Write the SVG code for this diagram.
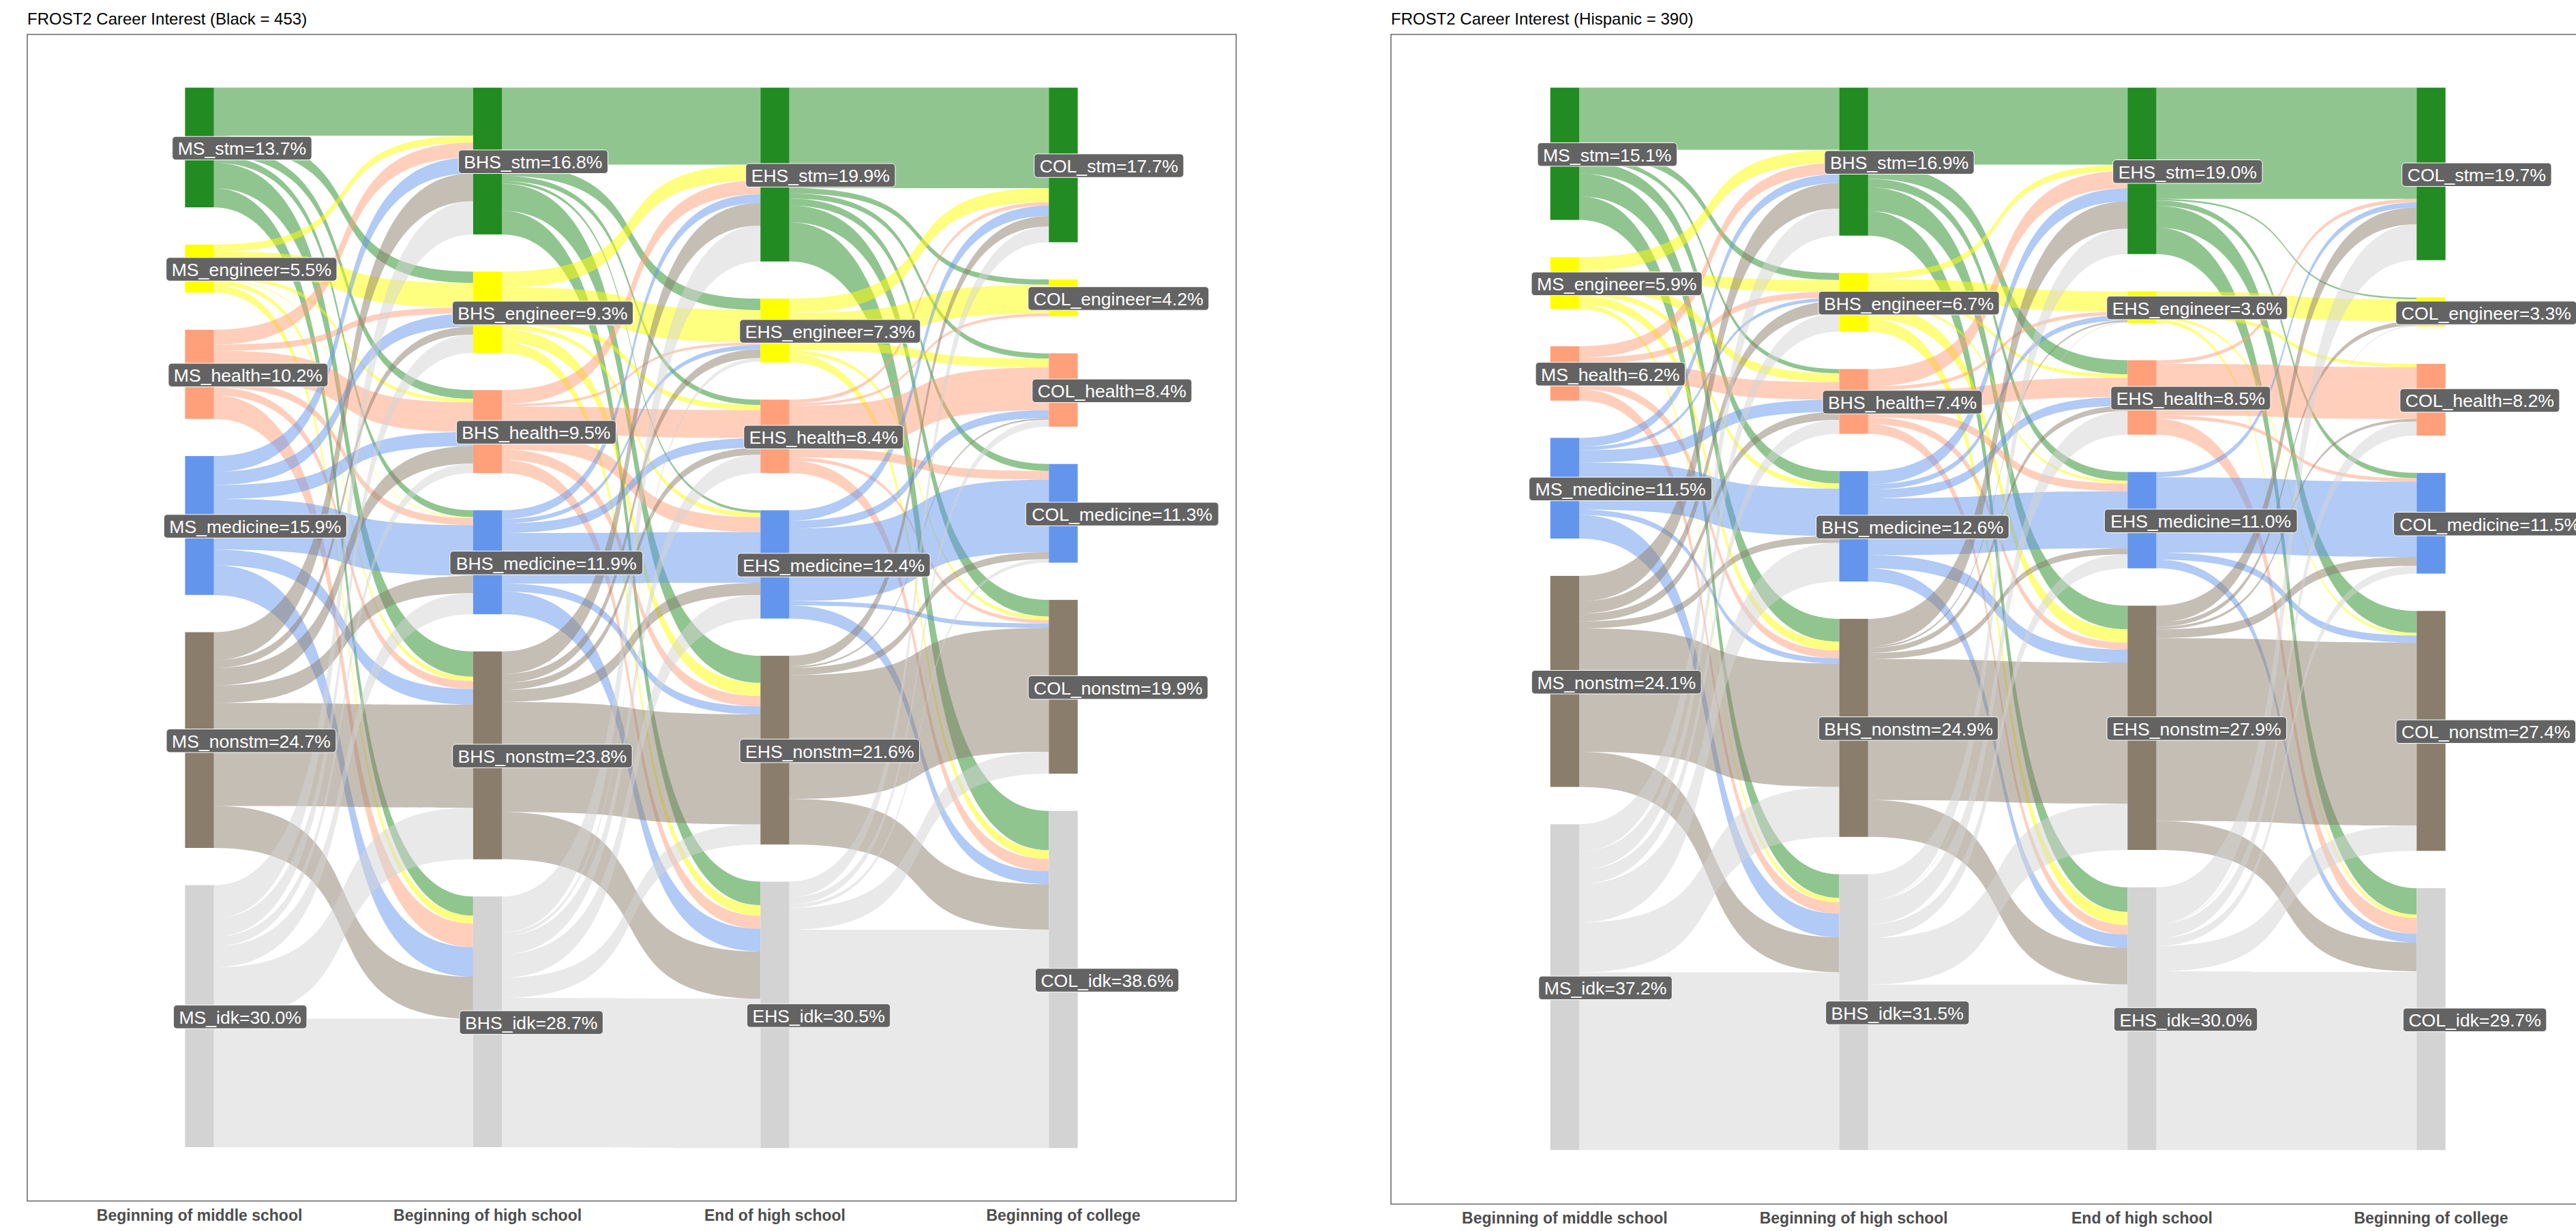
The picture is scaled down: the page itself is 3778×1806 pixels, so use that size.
<svg xmlns="http://www.w3.org/2000/svg" width="3778" height="1806" viewBox="0 0 3778 1806">
<style>
.fs{fill:#228B22;fill-opacity:.5}.fe{fill:#FFFF00;fill-opacity:.5}.fh{fill:#FFA07A;fill-opacity:.5}.fm{fill:#6495ED;fill-opacity:.5}.fn{fill:#8B7D6B;fill-opacity:.5}.fi{fill:#D3D3D3;fill-opacity:.5}
.ns{fill:#228B22}.ne{fill:#FFFF00}.nh{fill:#FFA07A}.nm{fill:#6495ED}.nn{fill:#8B7D6B}.ni{fill:#D3D3D3}
.lb{fill:#636363;stroke:#ffffff;stroke-width:1}
.lt{font-family:"Liberation Sans",Arial,sans-serif;font-size:26.6px;fill:#ffffff;text-anchor:middle}
.ax{font-family:"Liberation Sans",Arial,sans-serif;font-size:23px;font-weight:bold;fill:#4d4d4d;text-anchor:middle}
.ttl{font-family:"Liberation Sans",Arial,sans-serif;font-size:24px;fill:#000000}
.pb{fill:none;stroke:#666666;stroke-width:1.5}
</style>
<rect x="0" y="0" width="3778" height="1806" fill="#ffffff"/>
<text class="ttl" x="40" y="36">FROST2 Career Interest (Black = 453)</text>
<text class="ttl" x="2040" y="36">FROST2 Career Interest (Hispanic = 390)</text>
<rect class="pb" x="40" y="50.5" width="1773" height="1711.5"/>
<rect class="pb" x="2040" y="50.5" width="1760" height="1716"/>
<g id="connectors">
<g id="connectors-left">
<path class="fs" d="M313.7 128.6L693.9 128.6L693.9 199.1L313.7 199.1Z"/>
<path class="fs" d="M313.7 199.1C579.8 199.1 427.8 398.5 693.9 398.5L693.9 415.1C427.8 415.1 579.8 215.7 313.7 215.7Z"/>
<path class="fs" d="M313.7 215.7C579.8 215.7 427.8 572.3 693.9 572.3L693.9 585.1C427.8 585.1 579.8 228.6 313.7 228.6Z"/>
<path class="fs" d="M313.7 228.6C579.8 228.6 427.8 748.6 693.9 748.6L693.9 758.8C427.8 758.8 579.8 238.8 313.7 238.8Z"/>
<path class="fs" d="M313.7 238.8C579.8 238.8 427.8 955.7 693.9 955.7L693.9 992.8C427.8 992.8 579.8 276.0 313.7 276.0Z"/>
<path class="fs" d="M313.7 276.0C579.8 276.0 427.8 1315.2 693.9 1315.2L693.9 1343.4C427.8 1343.4 579.8 304.2 313.7 304.2Z"/>
<path class="fe" d="M313.7 358.8C579.8 358.8 427.8 199.1 693.9 199.1L693.9 209.3C427.8 209.3 579.8 369.0 313.7 369.0Z"/>
<path class="fe" d="M313.7 369.0C579.8 369.0 427.8 415.1 693.9 415.1L693.9 451.0C427.8 451.0 579.8 404.9 313.7 404.9Z"/>
<path class="fe" d="M313.7 404.9C579.8 404.9 427.8 585.1 693.9 585.1L693.9 590.2C427.8 590.2 579.8 410.0 313.7 410.0Z"/>
<path class="fe" d="M313.7 410.0C579.8 410.0 427.8 758.8 693.9 758.8L693.9 760.1C427.8 760.1 579.8 411.3 313.7 411.3Z"/>
<path class="fe" d="M313.7 411.3C579.8 411.3 427.8 992.8 693.9 992.8L693.9 999.2C427.8 999.2 579.8 417.7 313.7 417.7Z"/>
<path class="fe" d="M313.7 417.7C579.8 417.7 427.8 1343.4 693.9 1343.4L693.9 1355.0C427.8 1355.0 579.8 429.2 313.7 429.2Z"/>
<path class="fh" d="M313.7 483.8C579.8 483.8 427.8 209.3 693.9 209.3L693.9 231.1C427.8 231.1 579.8 505.6 313.7 505.6Z"/>
<path class="fh" d="M313.7 505.6C579.8 505.6 427.8 451.0 693.9 451.0L693.9 460.0C427.8 460.0 579.8 514.6 313.7 514.6Z"/>
<path class="fh" d="M313.7 514.6C579.8 514.6 427.8 590.2 693.9 590.2L693.9 633.8C427.8 633.8 579.8 558.2 313.7 558.2Z"/>
<path class="fh" d="M313.7 558.2C579.8 558.2 427.8 760.1 693.9 760.1L693.9 770.4C427.8 770.4 579.8 568.4 313.7 568.4Z"/>
<path class="fh" d="M313.7 568.4C579.8 568.4 427.8 999.2 693.9 999.2L693.9 1010.8C427.8 1010.8 579.8 579.9 313.7 579.9Z"/>
<path class="fh" d="M313.7 579.9C579.8 579.9 427.8 1355.0 693.9 1355.0L693.9 1389.6C427.8 1389.6 579.8 614.5 313.7 614.5Z"/>
<path class="fm" d="M313.7 669.1C579.8 669.1 427.8 231.1 693.9 231.1L693.9 254.2C427.8 254.2 579.8 692.2 313.7 692.2Z"/>
<path class="fm" d="M313.7 692.2C579.8 692.2 427.8 460.0 693.9 460.0L693.9 479.2C427.8 479.2 579.8 711.4 313.7 711.4Z"/>
<path class="fm" d="M313.7 711.4C579.8 711.4 427.8 633.8 693.9 633.8L693.9 654.3C427.8 654.3 579.8 731.9 313.7 731.9Z"/>
<path class="fm" d="M313.7 731.9C579.8 731.9 427.8 770.4 693.9 770.4L693.9 844.7C427.8 844.7 579.8 806.2 313.7 806.2Z"/>
<path class="fm" d="M313.7 806.2C579.8 806.2 427.8 1010.8 693.9 1010.8L693.9 1033.8C427.8 1033.8 579.8 829.3 313.7 829.3Z"/>
<path class="fm" d="M313.7 829.3C579.8 829.3 427.8 1389.6 693.9 1389.6L693.9 1433.1C427.8 1433.1 579.8 872.9 313.7 872.9Z"/>
<path class="fn" d="M313.7 927.5C579.8 927.5 427.8 254.2 693.9 254.2L693.9 295.2C427.8 295.2 579.8 968.5 313.7 968.5Z"/>
<path class="fn" d="M313.7 968.5C579.8 968.5 427.8 479.2 693.9 479.2L693.9 490.7C427.8 490.7 579.8 980.0 313.7 980.0Z"/>
<path class="fn" d="M313.7 980.0C579.8 980.0 427.8 654.3 693.9 654.3L693.9 679.9C427.8 679.9 579.8 1005.6 313.7 1005.6Z"/>
<path class="fn" d="M313.7 1005.6C579.8 1005.6 427.8 844.7 693.9 844.7L693.9 870.3C427.8 870.3 579.8 1031.3 313.7 1031.3Z"/>
<path class="fn" d="M313.7 1031.3C579.8 1031.3 427.8 1033.8 693.9 1033.8L693.9 1185.0C427.8 1185.0 579.8 1182.5 313.7 1182.5Z"/>
<path class="fn" d="M313.7 1182.5C579.8 1182.5 427.8 1433.1 693.9 1433.1L693.9 1494.6C427.8 1494.6 579.8 1244.0 313.7 1244.0Z"/>
<path class="fi" d="M313.7 1298.6C579.8 1298.6 427.8 295.2 693.9 295.2L693.9 343.9C427.8 343.9 579.8 1347.3 313.7 1347.3Z"/>
<path class="fi" d="M313.7 1347.3C579.8 1347.3 427.8 490.7 693.9 490.7L693.9 517.7C427.8 517.7 579.8 1374.2 313.7 1374.2Z"/>
<path class="fi" d="M313.7 1374.2C579.8 1374.2 427.8 679.9 693.9 679.9L693.9 694.0C427.8 694.0 579.8 1388.3 313.7 1388.3Z"/>
<path class="fi" d="M313.7 1388.3C579.8 1388.3 427.8 870.3 693.9 870.3L693.9 901.1C427.8 901.1 579.8 1419.0 313.7 1419.0Z"/>
<path class="fi" d="M313.7 1419.0C579.8 1419.0 427.8 1185.0 693.9 1185.0L693.9 1260.6C427.8 1260.6 579.8 1494.6 313.7 1494.6Z"/>
<path class="fi" d="M313.7 1494.6L693.9 1494.6L693.9 1683.0L313.7 1683.0Z"/>
<path class="fs" d="M736.2 128.6L1115.3 128.6L1115.3 241.4L736.2 241.4Z"/>
<path class="fs" d="M736.2 241.4C1001.6 241.4 849.9 438.2 1115.3 438.2L1115.3 454.9C849.9 454.9 1001.6 258.0 736.2 258.0Z"/>
<path class="fs" d="M736.2 258.0C1001.6 258.0 849.9 586.3 1115.3 586.3L1115.3 594.0C849.9 594.0 1001.6 265.7 736.2 265.7Z"/>
<path class="fs" d="M736.2 265.7C1001.6 265.7 849.9 748.6 1115.3 748.6L1115.3 752.4C849.9 752.4 1001.6 269.6 736.2 269.6Z"/>
<path class="fs" d="M736.2 269.6C1001.6 269.6 849.9 962.1 1115.3 962.1L1115.3 1001.8C849.9 1001.8 1001.6 309.3 736.2 309.3Z"/>
<path class="fs" d="M736.2 309.3C1001.6 309.3 849.9 1293.5 1115.3 1293.5L1115.3 1328.1C849.9 1328.1 1001.6 343.9 736.2 343.9Z"/>
<path class="fe" d="M736.2 398.5C1001.6 398.5 849.9 241.4 1115.3 241.4L1115.3 264.4C849.9 264.4 1001.6 421.6 736.2 421.6Z"/>
<path class="fe" d="M736.2 421.6C1001.6 421.6 849.9 454.9 1115.3 454.9L1115.3 502.3C849.9 502.3 1001.6 469.0 736.2 469.0Z"/>
<path class="fe" d="M736.2 469.0C1001.6 469.0 849.9 594.0 1115.3 594.0L1115.3 601.7C849.9 601.7 1001.6 476.7 736.2 476.7Z"/>
<path class="fe" d="M736.2 476.7C1001.6 476.7 849.9 752.4 1115.3 752.4L1115.3 758.8C849.9 758.8 1001.6 483.1 736.2 483.1Z"/>
<path class="fe" d="M736.2 483.1C1001.6 483.1 849.9 1001.8 1115.3 1001.8L1115.3 1021.0C849.9 1021.0 1001.6 502.3 736.2 502.3Z"/>
<path class="fe" d="M736.2 502.3C1001.6 502.3 849.9 1328.1 1115.3 1328.1L1115.3 1343.4C849.9 1343.4 1001.6 517.7 736.2 517.7Z"/>
<path class="fh" d="M736.2 572.3C1001.6 572.3 849.9 264.4 1115.3 264.4L1115.3 284.9C849.9 284.9 1001.6 592.8 736.2 592.8Z"/>
<path class="fh" d="M736.2 592.8C1001.6 592.8 849.9 502.3 1115.3 502.3L1115.3 506.1C849.9 506.1 1001.6 596.6 736.2 596.6Z"/>
<path class="fh" d="M736.2 596.6C1001.6 596.6 849.9 601.7 1115.3 601.7L1115.3 642.7C849.9 642.7 1001.6 637.6 736.2 637.6Z"/>
<path class="fh" d="M736.2 637.6C1001.6 637.6 849.9 758.8 1115.3 758.8L1115.3 780.6C849.9 780.6 1001.6 659.4 736.2 659.4Z"/>
<path class="fh" d="M736.2 659.4C1001.6 659.4 849.9 1021.0 1115.3 1021.0L1115.3 1036.4C849.9 1036.4 1001.6 674.8 736.2 674.8Z"/>
<path class="fh" d="M736.2 674.8C1001.6 674.8 849.9 1343.4 1115.3 1343.4L1115.3 1362.7C849.9 1362.7 1001.6 694.0 736.2 694.0Z"/>
<path class="fm" d="M736.2 748.6C1001.6 748.6 849.9 284.9 1115.3 284.9L1115.3 297.7C849.9 297.7 1001.6 761.4 736.2 761.4Z"/>
<path class="fm" d="M736.2 761.4C1001.6 761.4 849.9 506.1 1115.3 506.1L1115.3 512.5C849.9 512.5 1001.6 767.8 736.2 767.8Z"/>
<path class="fm" d="M736.2 767.8C1001.6 767.8 849.9 642.7 1115.3 642.7L1115.3 656.8C849.9 656.8 1001.6 781.9 736.2 781.9Z"/>
<path class="fm" d="M736.2 781.9C1001.6 781.9 849.9 780.6 1115.3 780.6L1115.3 854.9C849.9 854.9 1001.6 856.2 736.2 856.2Z"/>
<path class="fm" d="M736.2 856.2C1001.6 856.2 849.9 1036.4 1115.3 1036.4L1115.3 1047.9C849.9 1047.9 1001.6 867.8 736.2 867.8Z"/>
<path class="fm" d="M736.2 867.8C1001.6 867.8 849.9 1362.7 1115.3 1362.7L1115.3 1396.0C849.9 1396.0 1001.6 901.1 736.2 901.1Z"/>
<path class="fn" d="M736.2 955.7C1001.6 955.7 849.9 297.7 1115.3 297.7L1115.3 331.1C849.9 331.1 1001.6 989.0 736.2 989.0Z"/>
<path class="fn" d="M736.2 989.0C1001.6 989.0 849.9 512.5 1115.3 512.5L1115.3 525.3C849.9 525.3 1001.6 1001.8 736.2 1001.8Z"/>
<path class="fn" d="M736.2 1001.8C1001.6 1001.8 849.9 656.8 1115.3 656.8L1115.3 667.1C849.9 667.1 1001.6 1012.1 736.2 1012.1Z"/>
<path class="fn" d="M736.2 1012.1C1001.6 1012.1 849.9 854.9 1115.3 854.9L1115.3 872.9C849.9 872.9 1001.6 1030.0 736.2 1030.0Z"/>
<path class="fn" d="M736.2 1030.0C1001.6 1030.0 849.9 1047.9 1115.3 1047.9L1115.3 1209.4C849.9 1209.4 1001.6 1191.5 736.2 1191.5Z"/>
<path class="fn" d="M736.2 1191.5C1001.6 1191.5 849.9 1396.0 1115.3 1396.0L1115.3 1465.2C849.9 1465.2 1001.6 1260.6 736.2 1260.6Z"/>
<path class="fi" d="M736.2 1315.2C1001.6 1315.2 849.9 331.1 1115.3 331.1L1115.3 383.6C849.9 383.6 1001.6 1367.8 736.2 1367.8Z"/>
<path class="fi" d="M736.2 1367.8C1001.6 1367.8 849.9 525.3 1115.3 525.3L1115.3 530.5C849.9 530.5 1001.6 1372.9 736.2 1372.9Z"/>
<path class="fi" d="M736.2 1372.9C1001.6 1372.9 849.9 667.1 1115.3 667.1L1115.3 694.0C849.9 694.0 1001.6 1399.8 736.2 1399.8Z"/>
<path class="fi" d="M736.2 1399.8C1001.6 1399.8 849.9 872.9 1115.3 872.9L1115.3 907.5C849.9 907.5 1001.6 1434.4 736.2 1434.4Z"/>
<path class="fi" d="M736.2 1434.4C1001.6 1434.4 849.9 1209.4 1115.3 1209.4L1115.3 1238.9C849.9 1238.9 1001.6 1463.9 736.2 1463.9Z"/>
<path class="fi" d="M736.2 1463.9C1001.6 1463.9 849.9 1465.2 1115.3 1465.2L1115.3 1684.3C849.9 1684.3 1001.6 1683.0 736.2 1683.0Z"/>
<path class="fs" d="M1157.6 128.6L1538.3 128.6L1538.3 276.0L1157.6 276.0Z"/>
<path class="fs" d="M1157.6 276.0C1424.1 276.0 1271.8 410.0 1538.3 410.0L1538.3 417.7C1271.8 417.7 1424.1 283.7 1157.6 283.7Z"/>
<path class="fs" d="M1157.6 283.7C1424.1 283.7 1271.8 518.4 1538.3 518.4L1538.3 526.1C1271.8 526.1 1424.1 291.3 1157.6 291.3Z"/>
<path class="fs" d="M1157.6 291.3C1424.1 291.3 1271.8 680.7 1538.3 680.7L1538.3 690.9C1271.8 690.9 1424.1 301.6 1157.6 301.6Z"/>
<path class="fs" d="M1157.6 301.6C1424.1 301.6 1271.8 880.1 1538.3 880.1L1538.3 904.4C1271.8 904.4 1424.1 325.9 1157.6 325.9Z"/>
<path class="fs" d="M1157.6 325.9C1424.1 325.9 1271.8 1189.7 1538.3 1189.7L1538.3 1247.3C1271.8 1247.3 1424.1 383.6 1157.6 383.6Z"/>
<path class="fe" d="M1157.6 438.2C1424.1 438.2 1271.8 276.0 1538.3 276.0L1538.3 296.5C1271.8 296.5 1424.1 458.7 1157.6 458.7Z"/>
<path class="fe" d="M1157.6 458.7C1424.1 458.7 1271.8 417.7 1538.3 417.7L1538.3 460.0C1271.8 460.0 1424.1 501.0 1157.6 501.0Z"/>
<path class="fe" d="M1157.6 501.0C1424.1 501.0 1271.8 526.1 1538.3 526.1L1538.3 538.9C1271.8 538.9 1424.1 513.8 1157.6 513.8Z"/>
<path class="fe" d="M1157.6 513.8C1424.1 513.8 1271.8 904.4 1538.3 904.4L1538.3 909.5C1271.8 909.5 1424.1 518.9 1157.6 518.9Z"/>
<path class="fe" d="M1157.6 518.9C1424.1 518.9 1271.8 1247.3 1538.3 1247.3L1538.3 1260.2C1271.8 1260.2 1424.1 531.7 1157.6 531.7Z"/>
<path class="fh" d="M1157.6 586.3C1424.1 586.3 1271.8 296.5 1538.3 296.5L1538.3 301.6C1271.8 301.6 1424.1 591.5 1157.6 591.5Z"/>
<path class="fh" d="M1157.6 591.5C1424.1 591.5 1271.8 460.0 1538.3 460.0L1538.3 463.8C1271.8 463.8 1424.1 595.3 1157.6 595.3Z"/>
<path class="fh" d="M1157.6 595.3C1424.1 595.3 1271.8 538.9 1538.3 538.9L1538.3 601.7C1271.8 601.7 1424.1 658.1 1157.6 658.1Z"/>
<path class="fh" d="M1157.6 658.1C1424.1 658.1 1271.8 690.9 1538.3 690.9L1538.3 703.7C1271.8 703.7 1424.1 670.9 1157.6 670.9Z"/>
<path class="fh" d="M1157.6 670.9C1424.1 670.9 1271.8 909.5 1538.3 909.5L1538.3 914.7C1271.8 914.7 1424.1 676.0 1157.6 676.0Z"/>
<path class="fh" d="M1157.6 676.0C1424.1 676.0 1271.8 1260.2 1538.3 1260.2L1538.3 1278.1C1271.8 1278.1 1424.1 694.0 1157.6 694.0Z"/>
<path class="fm" d="M1157.6 748.6C1424.1 748.6 1271.8 301.6 1538.3 301.6L1538.3 317.0C1271.8 317.0 1424.1 764.0 1157.6 764.0Z"/>
<path class="fm" d="M1157.6 764.0C1424.1 764.0 1271.8 601.7 1538.3 601.7L1538.3 613.3C1271.8 613.3 1424.1 775.5 1157.6 775.5Z"/>
<path class="fm" d="M1157.6 775.5C1424.1 775.5 1271.8 703.7 1538.3 703.7L1538.3 810.1C1271.8 810.1 1424.1 881.9 1157.6 881.9Z"/>
<path class="fm" d="M1157.6 881.9C1424.1 881.9 1271.8 914.7 1538.3 914.7L1538.3 921.1C1271.8 921.1 1424.1 888.3 1157.6 888.3Z"/>
<path class="fm" d="M1157.6 888.3C1424.1 888.3 1271.8 1278.1 1538.3 1278.1L1538.3 1297.3C1271.8 1297.3 1424.1 907.5 1157.6 907.5Z"/>
<path class="fn" d="M1157.6 962.1C1424.1 962.1 1271.8 317.0 1538.3 317.0L1538.3 332.3C1271.8 332.3 1424.1 977.5 1157.6 977.5Z"/>
<path class="fn" d="M1157.6 977.5C1424.1 977.5 1271.8 613.3 1538.3 613.3L1538.3 615.8C1271.8 615.8 1424.1 980.0 1157.6 980.0Z"/>
<path class="fn" d="M1157.6 980.0C1424.1 980.0 1271.8 810.1 1538.3 810.1L1538.3 820.3C1271.8 820.3 1424.1 990.3 1157.6 990.3Z"/>
<path class="fn" d="M1157.6 990.3C1424.1 990.3 1271.8 921.1 1538.3 921.1L1538.3 1103.0C1271.8 1103.0 1424.1 1172.2 1157.6 1172.2Z"/>
<path class="fn" d="M1157.6 1172.2C1424.1 1172.2 1271.8 1297.3 1538.3 1297.3L1538.3 1363.9C1271.8 1363.9 1424.1 1238.9 1157.6 1238.9Z"/>
<path class="fi" d="M1157.6 1293.5C1424.1 1293.5 1271.8 332.3 1538.3 332.3L1538.3 355.4C1271.8 355.4 1424.1 1316.5 1157.6 1316.5Z"/>
<path class="fi" d="M1157.6 1316.5C1424.1 1316.5 1271.8 615.8 1538.3 615.8L1538.3 626.1C1271.8 626.1 1424.1 1326.8 1157.6 1326.8Z"/>
<path class="fi" d="M1157.6 1326.8C1424.1 1326.8 1271.8 820.3 1538.3 820.3L1538.3 825.5C1271.8 825.5 1424.1 1331.9 1157.6 1331.9Z"/>
<path class="fi" d="M1157.6 1331.9C1424.1 1331.9 1271.8 1103.0 1538.3 1103.0L1538.3 1135.1C1271.8 1135.1 1424.1 1363.9 1157.6 1363.9Z"/>
<path class="fi" d="M1157.6 1363.9L1538.3 1363.9L1538.3 1684.3L1157.6 1684.3Z"/>
</g>
<g id="connectors-right">
<path class="fs" d="M2316 128.6L2697.5 128.6L2697.5 219.8L2316 219.8Z"/>
<path class="fs" d="M2316 219.8C2583.1 219.8 2430.4 400.5 2697.5 400.5L2697.5 410.8C2430.4 410.8 2583.1 230.1 2316 230.1Z"/>
<path class="fs" d="M2316 230.1C2583.1 230.1 2430.4 541.4 2697.5 541.4L2697.5 547.8C2430.4 547.8 2583.1 236.5 2316 236.5Z"/>
<path class="fs" d="M2316 236.5C2583.1 236.5 2430.4 691.2 2697.5 691.2L2697.5 709.2C2430.4 709.2 2583.1 254.5 2316 254.5Z"/>
<path class="fs" d="M2316 254.5C2583.1 254.5 2430.4 907.9 2697.5 907.9L2697.5 941.3C2430.4 941.3 2583.1 287.9 2316 287.9Z"/>
<path class="fs" d="M2316 287.9C2583.1 287.9 2430.4 1282.6 2697.5 1282.6L2697.5 1317.2C2430.4 1317.2 2583.1 322.6 2316 322.6Z"/>
<path class="fe" d="M2316 377.4C2583.1 377.4 2430.4 219.8 2697.5 219.8L2697.5 239.1C2430.4 239.1 2583.1 396.6 2316 396.6Z"/>
<path class="fe" d="M2316 396.6C2583.1 396.6 2430.4 410.8 2697.5 410.8L2697.5 427.5C2430.4 427.5 2583.1 413.3 2316 413.3Z"/>
<path class="fe" d="M2316 413.3C2583.1 413.3 2430.4 547.8 2697.5 547.8L2697.5 560.6C2430.4 560.6 2583.1 426.2 2316 426.2Z"/>
<path class="fe" d="M2316 426.2C2583.1 426.2 2430.4 709.2 2697.5 709.2L2697.5 716.9C2430.4 716.9 2583.1 433.9 2316 433.9Z"/>
<path class="fe" d="M2316 433.9C2583.1 433.9 2430.4 941.3 2697.5 941.3L2697.5 954.1C2430.4 954.1 2583.1 446.7 2316 446.7Z"/>
<path class="fe" d="M2316 446.7C2583.1 446.7 2430.4 1317.2 2697.5 1317.2L2697.5 1323.7C2430.4 1323.7 2583.1 453.2 2316 453.2Z"/>
<path class="fh" d="M2316 508.0C2583.1 508.0 2430.4 239.1 2697.5 239.1L2697.5 255.8C2430.4 255.8 2583.1 524.7 2316 524.7Z"/>
<path class="fh" d="M2316 524.7C2583.1 524.7 2430.4 427.5 2697.5 427.5L2697.5 436.5C2430.4 436.5 2583.1 533.7 2316 533.7Z"/>
<path class="fh" d="M2316 533.7C2583.1 533.7 2430.4 560.6 2697.5 560.6L2697.5 586.3C2430.4 586.3 2583.1 559.3 2316 559.3Z"/>
<path class="fh" d="M2316 559.3C2583.1 559.3 2430.4 954.1 2697.5 954.1L2697.5 965.7C2430.4 965.7 2583.1 570.9 2316 570.9Z"/>
<path class="fh" d="M2316 570.9C2583.1 570.9 2430.4 1323.7 2697.5 1323.7L2697.5 1340.4C2430.4 1340.4 2583.1 587.6 2316 587.6Z"/>
<path class="fm" d="M2316 642.4C2583.1 642.4 2430.4 255.8 2697.5 255.8L2697.5 268.6C2430.4 268.6 2583.1 655.3 2316 655.3Z"/>
<path class="fm" d="M2316 655.3C2583.1 655.3 2430.4 436.5 2697.5 436.5L2697.5 441.6C2430.4 441.6 2583.1 660.4 2316 660.4Z"/>
<path class="fm" d="M2316 660.4C2583.1 660.4 2430.4 586.3 2697.5 586.3L2697.5 604.3C2430.4 604.3 2583.1 678.4 2316 678.4Z"/>
<path class="fm" d="M2316 678.4C2583.1 678.4 2430.4 716.9 2697.5 716.9L2697.5 786.3C2430.4 786.3 2583.1 747.8 2316 747.8Z"/>
<path class="fm" d="M2316 747.8C2583.1 747.8 2430.4 965.7 2697.5 965.7L2697.5 973.4C2430.4 973.4 2583.1 755.5 2316 755.5Z"/>
<path class="fm" d="M2316 755.5C2583.1 755.5 2430.4 1340.4 2697.5 1340.4L2697.5 1375.1C2430.4 1375.1 2583.1 790.1 2316 790.1Z"/>
<path class="fn" d="M2316 844.9C2583.1 844.9 2430.4 268.6 2697.5 268.6L2697.5 305.9C2430.4 305.9 2583.1 882.2 2316 882.2Z"/>
<path class="fn" d="M2316 882.2C2583.1 882.2 2430.4 441.6 2697.5 441.6L2697.5 459.6C2430.4 459.6 2583.1 900.2 2316 900.2Z"/>
<path class="fn" d="M2316 900.2C2583.1 900.2 2430.4 604.3 2697.5 604.3L2697.5 615.9C2430.4 615.9 2583.1 911.7 2316 911.7Z"/>
<path class="fn" d="M2316 911.7C2583.1 911.7 2430.4 786.3 2697.5 786.3L2697.5 796.6C2430.4 796.6 2583.1 922.0 2316 922.0Z"/>
<path class="fn" d="M2316 922.0C2583.1 922.0 2430.4 973.4 2697.5 973.4L2697.5 1154.5C2430.4 1154.5 2583.1 1103.1 2316 1103.1Z"/>
<path class="fn" d="M2316 1103.1C2583.1 1103.1 2430.4 1375.1 2697.5 1375.1L2697.5 1426.4C2430.4 1426.4 2583.1 1154.5 2316 1154.5Z"/>
<path class="fi" d="M2316 1209.3C2583.1 1209.3 2430.4 305.9 2697.5 305.9L2697.5 345.7C2430.4 345.7 2583.1 1249.2 2316 1249.2Z"/>
<path class="fi" d="M2316 1249.2C2583.1 1249.2 2430.4 459.6 2697.5 459.6L2697.5 486.6C2430.4 486.6 2583.1 1276.1 2316 1276.1Z"/>
<path class="fi" d="M2316 1276.1C2583.1 1276.1 2430.4 615.9 2697.5 615.9L2697.5 636.4C2430.4 636.4 2583.1 1296.7 2316 1296.7Z"/>
<path class="fi" d="M2316 1296.7C2583.1 1296.7 2430.4 796.6 2697.5 796.6L2697.5 853.1C2430.4 853.1 2583.1 1353.2 2316 1353.2Z"/>
<path class="fi" d="M2316 1353.2C2583.1 1353.2 2430.4 1154.5 2697.5 1154.5L2697.5 1227.8C2430.4 1227.8 2583.1 1426.4 2316 1426.4Z"/>
<path class="fi" d="M2316 1426.4L2697.5 1426.4L2697.5 1687.2L2316 1687.2Z"/>
<path class="fs" d="M2739.8 128.6L3120.3 128.6L3120.3 241.6L2739.8 241.6Z"/>
<path class="fs" d="M2739.8 241.6C3006.2 241.6 2853.9 528.5 3120.3 528.5L3120.3 549.1C2853.9 549.1 3006.2 262.2 2739.8 262.2Z"/>
<path class="fs" d="M2739.8 262.2C3006.2 262.2 2853.9 692.5 3120.3 692.5L3120.3 705.4C2853.9 705.4 3006.2 275.0 2739.8 275.0Z"/>
<path class="fs" d="M2739.8 275.0C3006.2 275.0 2853.9 888.6 3120.3 888.6L3120.3 923.3C2853.9 923.3 3006.2 309.7 2739.8 309.7Z"/>
<path class="fs" d="M2739.8 309.7C3006.2 309.7 2853.9 1301.8 3120.3 1301.8L3120.3 1337.8C2853.9 1337.8 3006.2 345.7 2739.8 345.7Z"/>
<path class="fe" d="M2739.8 400.5C3006.2 400.5 2853.9 241.6 3120.3 241.6L3120.3 250.6C2853.9 250.6 3006.2 409.5 2739.8 409.5Z"/>
<path class="fe" d="M2739.8 409.5C3006.2 409.5 2853.9 427.5 3120.3 427.5L3120.3 457.0C2853.9 457.0 3006.2 439.0 2739.8 439.0Z"/>
<path class="fe" d="M2739.8 439.0C3006.2 439.0 2853.9 549.1 3120.3 549.1L3120.3 554.2C2853.9 554.2 3006.2 444.2 2739.8 444.2Z"/>
<path class="fe" d="M2739.8 444.2C3006.2 444.2 2853.9 705.4 3120.3 705.4L3120.3 709.2C2853.9 709.2 3006.2 448.0 2739.8 448.0Z"/>
<path class="fe" d="M2739.8 448.0C3006.2 448.0 2853.9 923.3 3120.3 923.3L3120.3 942.6C2853.9 942.6 3006.2 467.3 2739.8 467.3Z"/>
<path class="fe" d="M2739.8 467.3C3006.2 467.3 2853.9 1337.8 3120.3 1337.8L3120.3 1357.1C2853.9 1357.1 3006.2 486.6 2739.8 486.6Z"/>
<path class="fh" d="M2739.8 541.4C3006.2 541.4 2853.9 250.6 3120.3 250.6L3120.3 276.3C2853.9 276.3 3006.2 567.1 2739.8 567.1Z"/>
<path class="fh" d="M2739.8 567.1C3006.2 567.1 2853.9 457.0 3120.3 457.0L3120.3 462.2C2853.9 462.2 3006.2 572.2 2739.8 572.2Z"/>
<path class="fh" d="M2739.8 572.2C3006.2 572.2 2853.9 554.2 3120.3 554.2L3120.3 582.5C2853.9 582.5 3006.2 600.5 2739.8 600.5Z"/>
<path class="fh" d="M2739.8 600.5C3006.2 600.5 2853.9 709.2 3120.3 709.2L3120.3 720.8C2853.9 720.8 3006.2 612.0 2739.8 612.0Z"/>
<path class="fh" d="M2739.8 612.0C3006.2 612.0 2853.9 942.6 3120.3 942.6L3120.3 952.9C2853.9 952.9 3006.2 622.3 2739.8 622.3Z"/>
<path class="fh" d="M2739.8 622.3C3006.2 622.3 2853.9 1357.1 3120.3 1357.1L3120.3 1371.2C2853.9 1371.2 3006.2 636.4 2739.8 636.4Z"/>
<path class="fm" d="M2739.8 691.2C3006.2 691.2 2853.9 276.3 3120.3 276.3L3120.3 295.6C2853.9 295.6 3006.2 710.5 2739.8 710.5Z"/>
<path class="fm" d="M2739.8 710.5C3006.2 710.5 2853.9 462.2 3120.3 462.2L3120.3 469.9C2853.9 469.9 3006.2 718.2 2739.8 718.2Z"/>
<path class="fm" d="M2739.8 718.2C3006.2 718.2 2853.9 582.5 3120.3 582.5L3120.3 595.3C2853.9 595.3 3006.2 731.1 2739.8 731.1Z"/>
<path class="fm" d="M2739.8 731.1C3006.2 731.1 2853.9 720.8 3120.3 720.8L3120.3 804.3C2853.9 804.3 3006.2 814.6 2739.8 814.6Z"/>
<path class="fm" d="M2739.8 814.6C3006.2 814.6 2853.9 952.9 3120.3 952.9L3120.3 972.1C2853.9 972.1 3006.2 833.8 2739.8 833.8Z"/>
<path class="fm" d="M2739.8 833.8C3006.2 833.8 2853.9 1371.2 3120.3 1371.2L3120.3 1390.5C2853.9 1390.5 3006.2 853.1 2739.8 853.1Z"/>
<path class="fn" d="M2739.8 907.9C3006.2 907.9 2853.9 295.6 3120.3 295.6L3120.3 335.4C2853.9 335.4 3006.2 947.7 2739.8 947.7Z"/>
<path class="fn" d="M2739.8 947.7C3006.2 947.7 2853.9 469.9 3120.3 469.9L3120.3 472.4C2853.9 472.4 3006.2 950.3 2739.8 950.3Z"/>
<path class="fn" d="M2739.8 950.3C3006.2 950.3 2853.9 595.3 3120.3 595.3L3120.3 603.0C2853.9 603.0 3006.2 958.0 2739.8 958.0Z"/>
<path class="fn" d="M2739.8 958.0C3006.2 958.0 2853.9 804.3 3120.3 804.3L3120.3 813.3C2853.9 813.3 3006.2 967.0 2739.8 967.0Z"/>
<path class="fn" d="M2739.8 967.0C3006.2 967.0 2853.9 972.1 3120.3 972.1L3120.3 1178.9C2853.9 1178.9 3006.2 1173.8 2739.8 1173.8Z"/>
<path class="fn" d="M2739.8 1173.8C3006.2 1173.8 2853.9 1390.5 3120.3 1390.5L3120.3 1444.4C2853.9 1444.4 3006.2 1227.8 2739.8 1227.8Z"/>
<path class="fi" d="M2739.8 1282.6C3006.2 1282.6 2853.9 335.4 3120.3 335.4L3120.3 372.7C2853.9 372.7 3006.2 1319.8 2739.8 1319.8Z"/>
<path class="fi" d="M2739.8 1319.8C3006.2 1319.8 2853.9 472.4 3120.3 472.4L3120.3 473.7C2853.9 473.7 3006.2 1321.1 2739.8 1321.1Z"/>
<path class="fi" d="M2739.8 1321.1C3006.2 1321.1 2853.9 603.0 3120.3 603.0L3120.3 637.7C2853.9 637.7 3006.2 1355.8 2739.8 1355.8Z"/>
<path class="fi" d="M2739.8 1355.8C3006.2 1355.8 2853.9 813.3 3120.3 813.3L3120.3 833.8C2853.9 833.8 3006.2 1376.3 2739.8 1376.3Z"/>
<path class="fi" d="M2739.8 1376.3C3006.2 1376.3 2853.9 1178.9 3120.3 1178.9L3120.3 1247.0C2853.9 1247.0 3006.2 1444.4 2739.8 1444.4Z"/>
<path class="fi" d="M2739.8 1444.4L3120.3 1444.4L3120.3 1687.2L2739.8 1687.2Z"/>
<path class="fs" d="M3162.6 128.6L3544.3 128.6L3544.3 291.7L3162.6 291.7Z"/>
<path class="fs" d="M3162.6 291.7C3429.8 291.7 3277.1 436.5 3544.3 436.5L3544.3 439.0C3277.1 439.0 3429.8 294.3 3162.6 294.3Z"/>
<path class="fs" d="M3162.6 294.3C3429.8 294.3 3277.1 693.8 3544.3 693.8L3544.3 701.5C3277.1 701.5 3429.8 302.0 3162.6 302.0Z"/>
<path class="fs" d="M3162.6 302.0C3429.8 302.0 3277.1 896.3 3544.3 896.3L3544.3 928.5C3277.1 928.5 3429.8 334.1 3162.6 334.1Z"/>
<path class="fs" d="M3162.6 334.1C3429.8 334.1 3277.1 1303.1 3544.3 1303.1L3544.3 1341.7C3277.1 1341.7 3429.8 372.7 3162.6 372.7Z"/>
<path class="fe" d="M3162.6 427.5C3429.8 427.5 3277.1 439.0 3544.3 439.0L3544.3 471.2C3277.1 471.2 3429.8 459.6 3162.6 459.6Z"/>
<path class="fe" d="M3162.6 459.6C3429.8 459.6 3277.1 533.7 3544.3 533.7L3544.3 538.8C3277.1 538.8 3429.8 464.7 3162.6 464.7Z"/>
<path class="fe" d="M3162.6 464.7C3429.8 464.7 3277.1 928.5 3544.3 928.5L3544.3 932.3C3277.1 932.3 3429.8 468.6 3162.6 468.6Z"/>
<path class="fe" d="M3162.6 468.6C3429.8 468.6 3277.1 1341.7 3544.3 1341.7L3544.3 1346.8C3277.1 1346.8 3429.8 473.7 3162.6 473.7Z"/>
<path class="fh" d="M3162.6 528.5C3429.8 528.5 3277.1 291.7 3544.3 291.7L3544.3 296.9C3277.1 296.9 3429.8 533.7 3162.6 533.7Z"/>
<path class="fh" d="M3162.6 533.7C3429.8 533.7 3277.1 538.8 3544.3 538.8L3544.3 614.6C3277.1 614.6 3429.8 609.5 3162.6 609.5Z"/>
<path class="fh" d="M3162.6 609.5C3429.8 609.5 3277.1 701.5 3544.3 701.5L3544.3 706.7C3277.1 706.7 3429.8 614.6 3162.6 614.6Z"/>
<path class="fh" d="M3162.6 614.6C3429.8 614.6 3277.1 1346.8 3544.3 1346.8L3544.3 1369.9C3277.1 1369.9 3429.8 637.7 3162.6 637.7Z"/>
<path class="fm" d="M3162.6 692.5C3429.8 692.5 3277.1 296.9 3544.3 296.9L3544.3 304.6C3277.1 304.6 3429.8 700.2 3162.6 700.2Z"/>
<path class="fm" d="M3162.6 700.2C3429.8 700.2 3277.1 706.7 3544.3 706.7L3544.3 817.1C3277.1 817.1 3429.8 810.7 3162.6 810.7Z"/>
<path class="fm" d="M3162.6 810.7C3429.8 810.7 3277.1 932.3 3544.3 932.3L3544.3 942.6C3277.1 942.6 3429.8 821.0 3162.6 821.0Z"/>
<path class="fm" d="M3162.6 821.0C3429.8 821.0 3277.1 1369.9 3544.3 1369.9L3544.3 1382.8C3277.1 1382.8 3429.8 833.8 3162.6 833.8Z"/>
<path class="fn" d="M3162.6 888.6C3429.8 888.6 3277.1 304.6 3544.3 304.6L3544.3 329.0C3277.1 329.0 3429.8 913.0 3162.6 913.0Z"/>
<path class="fn" d="M3162.6 913.0C3429.8 913.0 3277.1 471.2 3544.3 471.2L3544.3 477.6C3277.1 477.6 3429.8 919.5 3162.6 919.5Z"/>
<path class="fn" d="M3162.6 919.5C3429.8 919.5 3277.1 614.6 3544.3 614.6L3544.3 618.4C3277.1 618.4 3429.8 923.3 3162.6 923.3Z"/>
<path class="fn" d="M3162.6 923.3C3429.8 923.3 3277.1 817.1 3544.3 817.1L3544.3 830.0C3277.1 830.0 3429.8 936.2 3162.6 936.2Z"/>
<path class="fn" d="M3162.6 936.2C3429.8 936.2 3277.1 942.6 3544.3 942.6L3544.3 1211.1C3277.1 1211.1 3429.8 1204.6 3162.6 1204.6Z"/>
<path class="fn" d="M3162.6 1204.6C3429.8 1204.6 3277.1 1382.8 3544.3 1382.8L3544.3 1425.2C3277.1 1425.2 3429.8 1247.0 3162.6 1247.0Z"/>
<path class="fi" d="M3162.6 1301.8C3429.8 1301.8 3277.1 329.0 3544.3 329.0L3544.3 381.7C3277.1 381.7 3429.8 1354.5 3162.6 1354.5Z"/>
<path class="fi" d="M3162.6 1354.5C3429.8 1354.5 3277.1 477.6 3544.3 477.6L3544.3 478.9C3277.1 478.9 3429.8 1355.8 3162.6 1355.8Z"/>
<path class="fi" d="M3162.6 1355.8C3429.8 1355.8 3277.1 618.4 3544.3 618.4L3544.3 639.0C3277.1 639.0 3429.8 1376.3 3162.6 1376.3Z"/>
<path class="fi" d="M3162.6 1376.3C3429.8 1376.3 3277.1 830.0 3544.3 830.0L3544.3 841.5C3277.1 841.5 3429.8 1387.9 3162.6 1387.9Z"/>
<path class="fi" d="M3162.6 1387.9C3429.8 1387.9 3277.1 1211.1 3544.3 1211.1L3544.3 1248.3C3277.1 1248.3 3429.8 1425.1 3162.6 1425.1Z"/>
<path class="fi" d="M3162.6 1425.1L3544.3 1425.2L3544.3 1687.2L3162.6 1687.2Z"/>
</g>
</g>
<g id="nodes-left">
<g id="L-MS_stm"><rect class="ns" x="271.4" y="128.6" width="42.3" height="175.6"/><rect class="lb" x="252.7" y="200.2" width="204.5" height="34.5" rx="5"/><text class="lt" x="354.9" y="227.4">MS_stm=13.7%</text></g>
<g id="L-MS_engineer"><rect class="ne" x="271.4" y="358.8" width="42.3" height="70.5"/><rect class="lb" x="243.7" y="377.8" width="250.3" height="34.5" rx="5"/><text class="lt" x="368.9" y="405">MS_engineer=5.5%</text></g>
<g id="L-MS_health"><rect class="nh" x="271.4" y="483.8" width="42.3" height="130.7"/><rect class="lb" x="246.9" y="533" width="234.1" height="34.5" rx="5"/><text class="lt" x="363.9" y="560.2">MS_health=10.2%</text></g>
<g id="L-MS_medicine"><rect class="nm" x="271.4" y="669.1" width="42.3" height="203.7"/><rect class="lb" x="240.3" y="754.8" width="268.1" height="34.5" rx="5"/><text class="lt" x="374.3" y="782">MS_medicine=15.9%</text></g>
<g id="L-MS_nonstm"><rect class="nn" x="271.4" y="927.5" width="42.3" height="316.5"/><rect class="lb" x="244" y="1069.5" width="248.9" height="34.5" rx="5"/><text class="lt" x="368.5" y="1096.7">MS_nonstm=24.7%</text></g>
<g id="L-MS_idk"><rect class="ni" x="271.4" y="1298.6" width="42.3" height="384.4"/><rect class="lb" x="254.4" y="1474.6" width="195.6" height="34.5" rx="5"/><text class="lt" x="352.2" y="1501.8">MS_idk=30.0%</text></g>
<g id="L-BHS_stm"><rect class="ns" x="693.9" y="128.6" width="42.3" height="215.3"/><rect class="lb" x="672.3" y="220" width="219.3" height="34.5" rx="5"/><text class="lt" x="781.9" y="247.2">BHS_stm=16.8%</text></g>
<g id="L-BHS_engineer"><rect class="ne" x="693.9" y="398.5" width="42.3" height="119.2"/><rect class="lb" x="663.4" y="441.9" width="265.1" height="34.5" rx="5"/><text class="lt" x="795.9" y="469.1">BHS_engineer=9.3%</text></g>
<g id="L-BHS_health"><rect class="nh" x="693.9" y="572.3" width="42.3" height="121.7"/><rect class="lb" x="669.4" y="616.9" width="234.1" height="34.5" rx="5"/><text class="lt" x="786.4" y="644.1">BHS_health=9.5%</text></g>
<g id="L-BHS_medicine"><rect class="nm" x="693.9" y="748.6" width="42.3" height="152.5"/><rect class="lb" x="659.9" y="808.6" width="282.9" height="34.5" rx="5"/><text class="lt" x="801.3" y="835.8">BHS_medicine=11.9%</text></g>
<g id="L-BHS_nonstm"><rect class="nn" x="693.9" y="955.7" width="42.3" height="305"/><rect class="lb" x="663.6" y="1091.9" width="263.6" height="34.5" rx="5"/><text class="lt" x="795.4" y="1119.1">BHS_nonstm=23.8%</text></g>
<g id="L-BHS_idk"><rect class="ni" x="693.9" y="1315.2" width="42.3" height="367.8"/><rect class="lb" x="674" y="1482.9" width="210.4" height="34.5" rx="5"/><text class="lt" x="779.2" y="1510.1">BHS_idk=28.7%</text></g>
<g id="L-EHS_stm"><rect class="ns" x="1115.3" y="128.6" width="42.3" height="255"/><rect class="lb" x="1093.7" y="239.9" width="219.3" height="34.5" rx="5"/><text class="lt" x="1203.3" y="267.1">EHS_stm=19.9%</text></g>
<g id="L-EHS_engineer"><rect class="ne" x="1115.3" y="438.2" width="42.3" height="93.5"/><rect class="lb" x="1084.8" y="468.8" width="265.1" height="34.5" rx="5"/><text class="lt" x="1217.3" y="496">EHS_engineer=7.3%</text></g>
<g id="L-EHS_health"><rect class="nh" x="1115.3" y="586.3" width="42.3" height="107.6"/><rect class="lb" x="1090.8" y="624" width="234.1" height="34.5" rx="5"/><text class="lt" x="1207.8" y="651.2">EHS_health=8.4%</text></g>
<g id="L-EHS_medicine"><rect class="nm" x="1115.3" y="748.6" width="42.3" height="158.9"/><rect class="lb" x="1081.3" y="811.8" width="282.9" height="34.5" rx="5"/><text class="lt" x="1222.7" y="839">EHS_medicine=12.4%</text></g>
<g id="L-EHS_nonstm"><rect class="nn" x="1115.3" y="962.1" width="42.3" height="276.8"/><rect class="lb" x="1085" y="1084.3" width="263.6" height="34.5" rx="5"/><text class="lt" x="1216.8" y="1111.5">EHS_nonstm=21.6%</text></g>
<g id="L-EHS_idk"><rect class="ni" x="1115.3" y="1293.5" width="42.3" height="390.8"/><rect class="lb" x="1095.4" y="1472.7" width="210.4" height="34.5" rx="5"/><text class="lt" x="1200.6" y="1499.9">EHS_idk=30.5%</text></g>
<g id="L-COL_stm"><rect class="ns" x="1538.3" y="128.6" width="42.3" height="226.8"/><rect class="lb" x="1516.7" y="225.8" width="219.3" height="34.5" rx="5"/><text class="lt" x="1626.3" y="253">COL_stm=17.7%</text></g>
<g id="L-COL_engineer"><rect class="ne" x="1538.3" y="410" width="42.3" height="53.8"/><rect class="lb" x="1507.8" y="420.7" width="265.1" height="34.5" rx="5"/><text class="lt" x="1640.3" y="447.9">COL_engineer=4.2%</text></g>
<g id="L-COL_health"><rect class="nh" x="1538.3" y="518.4" width="42.3" height="107.6"/><rect class="lb" x="1513.8" y="556.1" width="234.1" height="34.5" rx="5"/><text class="lt" x="1630.8" y="583.3">COL_health=8.4%</text></g>
<g id="L-COL_medicine"><rect class="nm" x="1538.3" y="680.7" width="42.3" height="144.8"/><rect class="lb" x="1504.3" y="736.9" width="282.9" height="34.5" rx="5"/><text class="lt" x="1645.7" y="764.1">COL_medicine=11.3%</text></g>
<g id="L-COL_nonstm"><rect class="nn" x="1538.3" y="880.1" width="42.3" height="255"/><rect class="lb" x="1508" y="991.4" width="263.6" height="34.5" rx="5"/><text class="lt" x="1639.8" y="1018.6">COL_nonstm=19.9%</text></g>
<g id="L-COL_idk"><rect class="ni" x="1538.3" y="1189.7" width="42.3" height="494.6"/><rect class="lb" x="1518.4" y="1420.8" width="210.4" height="34.5" rx="5"/><text class="lt" x="1623.6" y="1448">COL_idk=38.6%</text></g>
</g>
<g id="nodes-right">
<g id="R-MS_stm"><rect class="ns" x="2273.7" y="128.6" width="42.3" height="194"/><rect class="lb" x="2255" y="209.4" width="204.5" height="34.5" rx="5"/><text class="lt" x="2357.2" y="236.6">MS_stm=15.1%</text></g>
<g id="R-MS_engineer"><rect class="ne" x="2273.7" y="377.4" width="42.3" height="75.8"/><rect class="lb" x="2246" y="399.1" width="250.3" height="34.5" rx="5"/><text class="lt" x="2371.2" y="426.3">MS_engineer=5.9%</text></g>
<g id="R-MS_health"><rect class="nh" x="2273.7" y="508" width="42.3" height="79.7"/><rect class="lb" x="2252.1" y="531.6" width="219.3" height="34.5" rx="5"/><text class="lt" x="2361.7" y="558.8">MS_health=6.2%</text></g>
<g id="R-MS_medicine"><rect class="nm" x="2273.7" y="642.4" width="42.3" height="147.7"/><rect class="lb" x="2242.6" y="700.1" width="268.1" height="34.5" rx="5"/><text class="lt" x="2376.6" y="727.3">MS_medicine=11.5%</text></g>
<g id="R-MS_nonstm"><rect class="nn" x="2273.7" y="844.9" width="42.3" height="309.6"/><rect class="lb" x="2246.3" y="983.5" width="248.9" height="34.5" rx="5"/><text class="lt" x="2370.8" y="1010.7">MS_nonstm=24.1%</text></g>
<g id="R-MS_idk"><rect class="ni" x="2273.7" y="1209.3" width="42.3" height="477.9"/><rect class="lb" x="2256.7" y="1432.1" width="195.6" height="34.5" rx="5"/><text class="lt" x="2354.5" y="1459.3">MS_idk=37.2%</text></g>
<g id="R-BHS_stm"><rect class="ns" x="2697.5" y="128.6" width="42.3" height="217.1"/><rect class="lb" x="2675.9" y="221" width="219.3" height="34.5" rx="5"/><text class="lt" x="2785.5" y="248.2">BHS_stm=16.9%</text></g>
<g id="R-BHS_engineer"><rect class="ne" x="2697.5" y="400.5" width="42.3" height="86.1"/><rect class="lb" x="2667" y="427.4" width="265.1" height="34.5" rx="5"/><text class="lt" x="2799.5" y="454.6">BHS_engineer=6.7%</text></g>
<g id="R-BHS_health"><rect class="nh" x="2697.5" y="541.4" width="42.3" height="95.1"/><rect class="lb" x="2673" y="572.7" width="234.1" height="34.5" rx="5"/><text class="lt" x="2790" y="599.9">BHS_health=7.4%</text></g>
<g id="R-BHS_medicine"><rect class="nm" x="2697.5" y="691.2" width="42.3" height="161.9"/><rect class="lb" x="2663.5" y="756" width="282.9" height="34.5" rx="5"/><text class="lt" x="2804.9" y="783.2">BHS_medicine=12.6%</text></g>
<g id="R-BHS_nonstm"><rect class="nn" x="2697.5" y="907.9" width="42.3" height="319.9"/><rect class="lb" x="2667.2" y="1051.7" width="263.6" height="34.5" rx="5"/><text class="lt" x="2799" y="1078.9">BHS_nonstm=24.9%</text></g>
<g id="R-BHS_idk"><rect class="ni" x="2697.5" y="1282.6" width="42.3" height="404.6"/><rect class="lb" x="2677.6" y="1468.7" width="210.4" height="34.5" rx="5"/><text class="lt" x="2782.8" y="1495.9">BHS_idk=31.5%</text></g>
<g id="R-EHS_stm"><rect class="ns" x="3120.3" y="128.6" width="42.3" height="244.1"/><rect class="lb" x="3098.7" y="234.5" width="219.3" height="34.5" rx="5"/><text class="lt" x="3208.3" y="261.7">EHS_stm=19.0%</text></g>
<g id="R-EHS_engineer"><rect class="ne" x="3120.3" y="427.5" width="42.3" height="46.3"/><rect class="lb" x="3089.8" y="434.4" width="265.1" height="34.5" rx="5"/><text class="lt" x="3222.3" y="461.6">EHS_engineer=3.6%</text></g>
<g id="R-EHS_health"><rect class="nh" x="3120.3" y="528.5" width="42.3" height="109.2"/><rect class="lb" x="3095.8" y="566.9" width="234.1" height="34.5" rx="5"/><text class="lt" x="3212.8" y="594.1">EHS_health=8.5%</text></g>
<g id="R-EHS_medicine"><rect class="nm" x="3120.3" y="692.5" width="42.3" height="141.3"/><rect class="lb" x="3086.3" y="747" width="282.9" height="34.5" rx="5"/><text class="lt" x="3227.7" y="774.2">EHS_medicine=11.0%</text></g>
<g id="R-EHS_nonstm"><rect class="nn" x="3120.3" y="888.6" width="42.3" height="358.4"/><rect class="lb" x="3090" y="1051.6" width="263.6" height="34.5" rx="5"/><text class="lt" x="3221.8" y="1078.8">EHS_nonstm=27.9%</text></g>
<g id="R-EHS_idk"><rect class="ni" x="3120.3" y="1301.8" width="42.3" height="385.4"/><rect class="lb" x="3100.4" y="1478.3" width="210.4" height="34.5" rx="5"/><text class="lt" x="3205.6" y="1505.5">EHS_idk=30.0%</text></g>
<g id="R-COL_stm"><rect class="ns" x="3544.3" y="128.6" width="42.3" height="253.1"/><rect class="lb" x="3522.7" y="239" width="219.3" height="34.5" rx="5"/><text class="lt" x="3632.3" y="266.2">COL_stm=19.7%</text></g>
<g id="R-COL_engineer"><rect class="ne" x="3544.3" y="436.5" width="42.3" height="42.4"/><rect class="lb" x="3513.8" y="441.8" width="265.1" height="34.5" rx="5"/><text class="lt" x="3646.3" y="469">COL_engineer=3.3%</text></g>
<g id="R-COL_health"><rect class="nh" x="3544.3" y="533.7" width="42.3" height="105.3"/><rect class="lb" x="3519.8" y="570.2" width="234.1" height="34.5" rx="5"/><text class="lt" x="3636.8" y="597.4">COL_health=8.2%</text></g>
<g id="R-COL_medicine"><rect class="nm" x="3544.3" y="693.8" width="42.3" height="147.7"/><rect class="lb" x="3510.3" y="751.5" width="282.9" height="34.5" rx="5"/><text class="lt" x="3651.7" y="778.7">COL_medicine=11.5%</text></g>
<g id="R-COL_nonstm"><rect class="nn" x="3544.3" y="896.3" width="42.3" height="352"/><rect class="lb" x="3514" y="1056.1" width="263.6" height="34.5" rx="5"/><text class="lt" x="3645.8" y="1083.3">COL_nonstm=27.4%</text></g>
<g id="R-COL_idk"><rect class="ni" x="3544.3" y="1303.1" width="42.3" height="384.1"/><rect class="lb" x="3524.4" y="1479" width="210.4" height="34.5" rx="5"/><text class="lt" x="3629.6" y="1506.2">COL_idk=29.7%</text></g>
</g>
<g id="axis-labels">
<text class="ax" x="292.6" y="1791">Beginning of middle school</text>
<text class="ax" x="715.1" y="1791">Beginning of high school</text>
<text class="ax" x="1136.5" y="1791">End of high school</text>
<text class="ax" x="1559.5" y="1791">Beginning of college</text>
<text class="ax" x="2294.9" y="1795">Beginning of middle school</text>
<text class="ax" x="2718.7" y="1795">Beginning of high school</text>
<text class="ax" x="3141.5" y="1795">End of high school</text>
<text class="ax" x="3565.5" y="1795">Beginning of college</text>
</g>
</svg>
